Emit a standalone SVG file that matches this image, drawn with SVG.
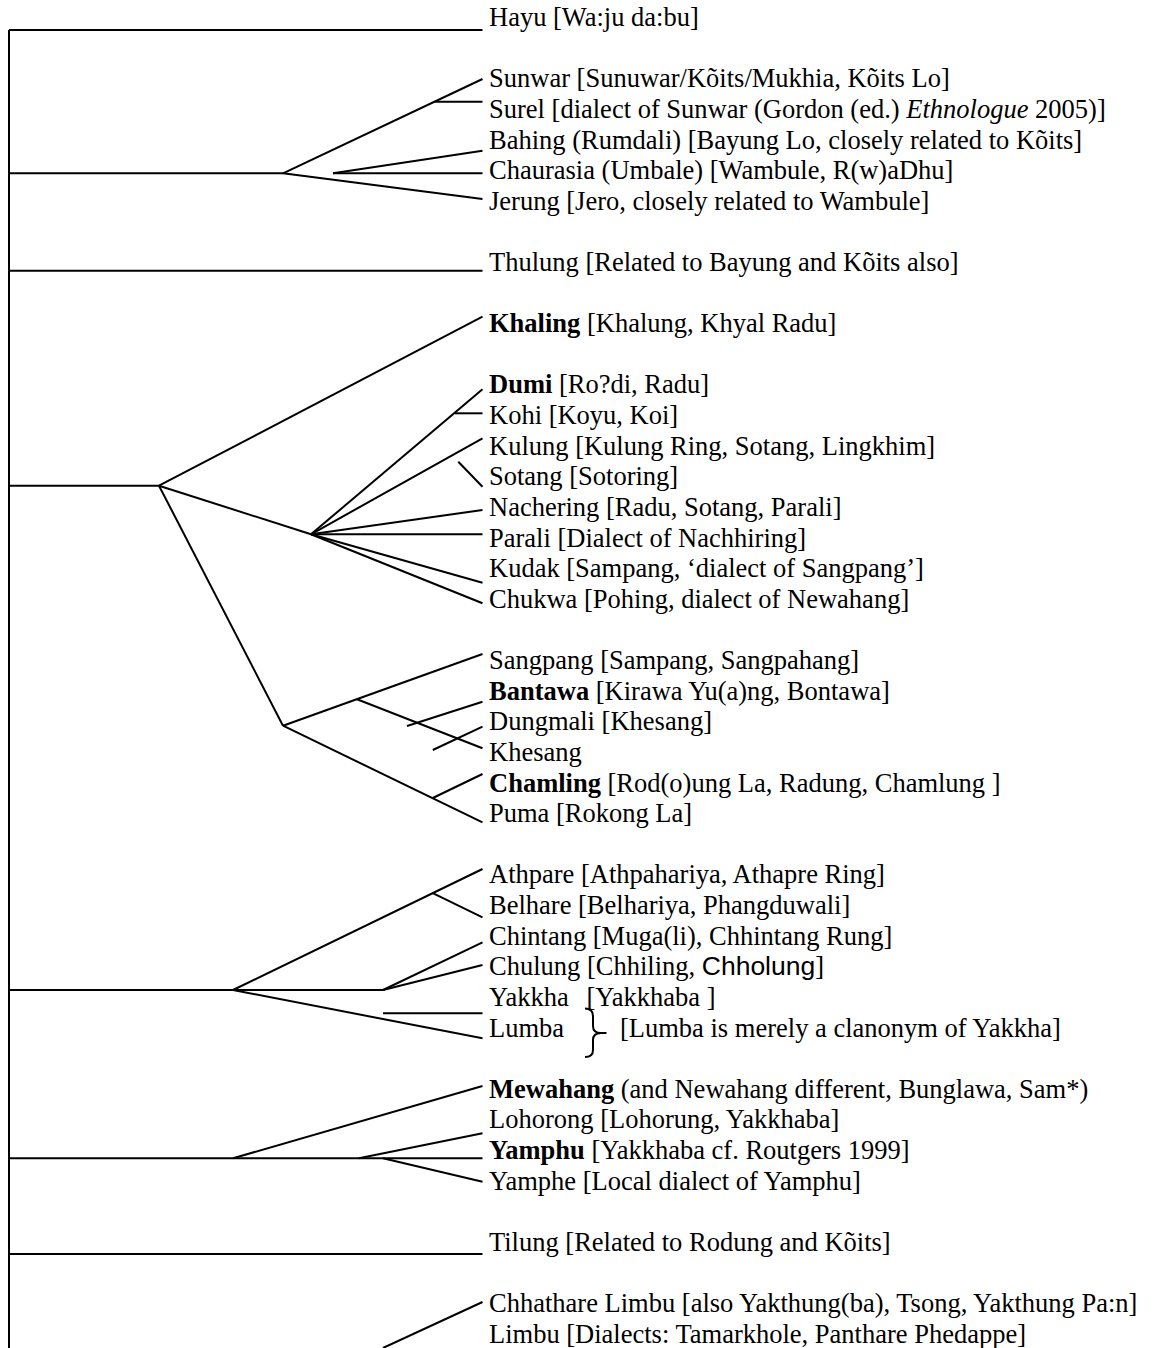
<svg xmlns="http://www.w3.org/2000/svg" width="1154" height="1348" viewBox="0 0 1154 1348">
<style>
  .bg{fill:#ffffff}
  .ln{fill:none;stroke:#000;stroke-width:2;stroke-linecap:butt}
  text{font-family:"Liberation Serif","Times New Roman",serif;font-size:26.5px;fill:#000}
  .b{font-weight:bold}
  .i{font-style:italic}
  .sans{font-family:"Liberation Sans",Arial,sans-serif}
</style>
<rect class="bg" x="0" y="0" width="1154" height="1348"/>
<g id="connectors" class="ln">
  <path d="M9,30 V1348"/>
  <path d="M9,30 H482.5"/>
  <path d="M9,173.3 H283"/>
  <path d="M283,173.3 L482.5,79"/>
  <path d="M434.7,101.7 H482.5"/>
  <path d="M333,173.3 L482.5,150.7"/>
  <path d="M333,173.3 H482.5"/>
  <path d="M283,173.3 L482.5,199"/>
  <path d="M9,270.7 H482.5"/>
  <path d="M9,485.7 H159"/>
  <path d="M159,485.7 L482.5,316.7"/>
  <path d="M159,485.7 L311,534.3"/>
  <path d="M159,485.7 L283,725.7"/>
  <path d="M311,534.3 L482.5,389.3"/>
  <path d="M455,413.3 H482.5"/>
  <path d="M311,534.3 L482.5,438.3"/>
  <path d="M458.3,461.7 L482.5,486.7"/>
  <path d="M311,534.3 L482.5,510"/>
  <path d="M311,534.3 H482.5"/>
  <path d="M311,534.3 L482.5,582.7"/>
  <path d="M311,534.3 L482.5,603.3"/>
  <path d="M283,725.7 L482.5,654"/>
  <path d="M357,699.2 L482.5,748.3"/>
  <path d="M407,726 L482.5,701.7"/>
  <path d="M432.8,750 L482.5,726.7"/>
  <path d="M283,725.7 L482.5,822.3"/>
  <path d="M432.8,798 L482.5,774"/>
  <path d="M9,990 H383"/>
  <path d="M233,990 L482.5,869"/>
  <path d="M432.8,893.2 L482.5,917.3"/>
  <path d="M383,990 L482.5,942.3"/>
  <path d="M383,990 L482.5,965"/>
  <path d="M233,990 L482.5,1038.3"/>
  <path d="M383,1013.3 H482.5"/>
  <path d="M9,1158.3 H482.5"/>
  <path d="M233,1158.3 L482.5,1086"/>
  <path d="M358.9,1158.3 L482.5,1133.3"/>
  <path d="M383,1158.3 L482.5,1181.7"/>
  <path d="M9,1254 H482.5"/>
  <path d="M383,1348 L482.5,1302"/>
</g>
<g id="hayu"><text x="489" y="26">Hayu [Wa:ju da:bu]</text></g>
<g id="sunwar"><text x="489" y="87.2">Sunwar [Sunuwar/Kõits/Mukhia, Kõits Lo]</text></g>
<g id="surel"><text x="489" y="117.9">Surel [dialect of Sunwar (Gordon (ed.) <tspan class="i">Ethnologue</tspan> 2005)]</text></g>
<g id="bahing"><text x="489" y="148.5">Bahing (Rumdali) [Bayung Lo, closely related to Kõits]</text></g>
<g id="chaurasia"><text x="489" y="179.1">Chaurasia (Umbale) [Wambule, R(w)aDhu]</text></g>
<g id="jerung"><text x="489" y="209.7">Jerung [Jero, closely related to Wambule]</text></g>
<g id="thulung"><text x="489" y="271">Thulung [Related to Bayung and Kõits also]</text></g>
<g id="khaling"><text x="489" y="332.2"><tspan class="b">Khaling</tspan> [Khalung, Khyal Radu]</text></g>
<g id="dumi"><text x="489" y="393.4"><tspan class="b">Dumi</tspan> [Ro?di, Radu]</text></g>
<g id="kohi"><text x="489" y="424.1">Kohi [Koyu, Koi]</text></g>
<g id="kulung"><text x="489" y="454.7">Kulung [Kulung Ring, Sotang, Lingkhim]</text></g>
<g id="sotang"><text x="489" y="485.3">Sotang [Sotoring]</text></g>
<g id="nachering"><text x="489" y="515.9">Nachering [Radu, Sotang, Parali]</text></g>
<g id="parali"><text x="489" y="546.5">Parali [Dialect of Nachhiring]</text></g>
<g id="kudak"><text x="489" y="577.2">Kudak [Sampang, ‘dialect of Sangpang’]</text></g>
<g id="chukwa"><text x="489" y="607.8">Chukwa [Pohing, dialect of Newahang]</text></g>
<g id="sangpang"><text x="489" y="669">Sangpang [Sampang, Sangpahang]</text></g>
<g id="bantawa"><text x="489" y="699.6"><tspan class="b">Bantawa</tspan> [Kirawa Yu(a)ng, Bontawa]</text></g>
<g id="dungmali"><text x="489" y="730.3">Dungmali [Khesang]</text></g>
<g id="khesang"><text x="489" y="760.9">Khesang</text></g>
<g id="chamling"><text x="489" y="791.5"><tspan class="b">Chamling</tspan> [Rod(o)ung La, Radung, Chamlung ]</text></g>
<g id="puma"><text x="489" y="822.1">Puma [Rokong La]</text></g>
<g id="athpare"><text x="489" y="883.4">Athpare [Athpahariya, Athapre Ring]</text></g>
<g id="belhare"><text x="489" y="914">Belhare [Belhariya, Phangduwali]</text></g>
<g id="chintang"><text x="489" y="944.6">Chintang [Muga(li), Chhintang Rung]</text></g>
<g id="chulung"><text x="489" y="975.2">Chulung [Chhiling, <tspan class="sans">Chholung</tspan>]</text></g>
<g id="yakkha"><text x="489" y="1005.8">Yakkha</text><text x="586.5" y="1005.8">[Yakkhaba ]</text></g>
<g id="lumba">
  <text x="489" y="1036.5">Lumba</text>
  <path class="ln" d="M585,1008.5 Q593,1008.5 593,1016 L593,1026 Q593,1033 601,1033 L606.5,1033 M601,1033 Q593,1033 593,1040 L593,1050 Q593,1057 585,1057"/>
  <text x="620" y="1036.5">[Lumba is merely a clanonym of Yakkha]</text>
</g>
<g id="mewahang"><text x="489" y="1097.7"><tspan class="b">Mewahang</tspan> (and Newahang different, Bunglawa, Sam*)</text></g>
<g id="lohorong"><text x="489" y="1128.3">Lohorong [Lohorung, Yakkhaba]</text></g>
<g id="yamphu"><text x="489" y="1158.9"><tspan class="b">Yamphu</tspan> [Yakkhaba cf. Routgers 1999]</text></g>
<g id="yamphe"><text x="489" y="1189.6">Yamphe [Local dialect of Yamphu]</text></g>
<g id="tilung"><text x="489" y="1250.8">Tilung [Related to Rodung and Kõits]</text></g>
<g id="chhathare-limbu"><text x="489" y="1312">Chhathare Limbu [also Yakthung(ba), Tsong, Yakthung Pa:n]</text></g>
<g id="limbu"><text x="489" y="1342.7">Limbu [Dialects: Tamarkhole, Panthare Phedappe]</text></g>
</svg>
